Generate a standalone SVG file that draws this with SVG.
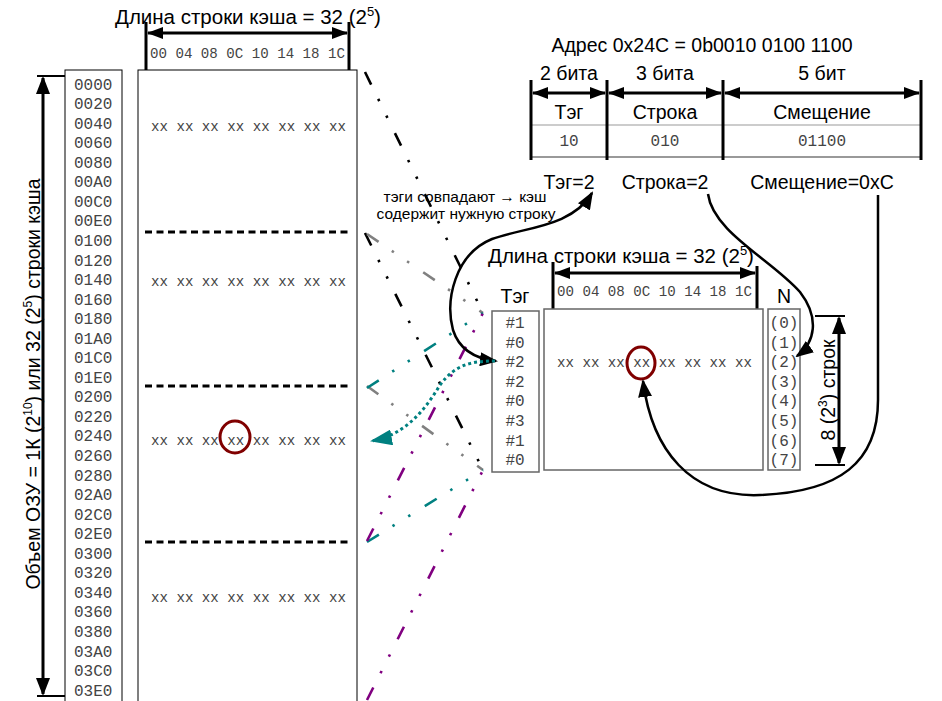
<svg xmlns="http://www.w3.org/2000/svg" width="942" height="701" viewBox="0 0 942 701">
<defs>
<style>
.t{font-family:"Liberation Sans",Arial,sans-serif;font-size:19.5px;fill:#000}
.h{font-family:"Liberation Sans",Arial,sans-serif;font-size:20.5px;fill:#000}
.n{font-family:"Liberation Sans",Arial,sans-serif;font-size:15.5px;fill:#000}
.m{font-family:"Liberation Mono","Courier New",monospace;font-size:16px;fill:#444}
.r{font-family:"Liberation Mono","Courier New",monospace;font-size:14.1px;fill:#444}
.box{fill:#fff;stroke:#000;stroke-width:1}
.gbox{fill:#fff;stroke:#666;stroke-width:1.5}
.thick{stroke:#000;stroke-width:3;fill:none}
.sep{stroke:#000;stroke-width:3;stroke-dasharray:7 4.5;fill:none}
.dd{stroke-width:2.6;fill:none;stroke-dasharray:14 16 2.5 16 2.5 17}
.circ{fill:none;stroke:#800000;stroke-width:3}
.curve{stroke:#000;stroke-width:2.5;fill:none}
</style>
<marker id="ah" viewBox="0 0 16 12" refX="15" refY="6" markerWidth="16" markerHeight="12" markerUnits="userSpaceOnUse" orient="auto-start-reverse"><path d="M0,0 L16,6 L0,12 z" fill="#000"/></marker>
<marker id="ahc" viewBox="0 0 18 14" refX="16" refY="7" markerWidth="18" markerHeight="14" markerUnits="userSpaceOnUse" orient="auto-start-reverse"><path d="M0,0 L18,7 L0,14 z" fill="#000"/></marker>
<marker id="aht" viewBox="0 0 22 16" refX="20" refY="8" markerWidth="22" markerHeight="16" markerUnits="userSpaceOnUse" orient="auto"><path d="M0,0 L22,8 L0,16 z" fill="#008080"/></marker>
</defs>

<g id="ram-size">
<line class="thick" x1="43" y1="78" x2="43" y2="694" marker-start="url(#ahc)" marker-end="url(#ahc)"/>
<line stroke="#000" stroke-width="2" x1="37" y1="76" x2="65" y2="76"/>
<line stroke="#000" stroke-width="2" x1="37" y1="696" x2="65" y2="696"/>
<text class="t" font-size="20" transform="translate(40,384) rotate(-90)" text-anchor="middle">Объем ОЗУ = 1К (2<tspan font-size="12" dy="-8">10</tspan><tspan dy="8">) или 32 (2</tspan><tspan font-size="12" dy="-8">5</tspan><tspan dy="8">) строки кэша</tspan></text>
</g>

<g id="addresses">
<rect class="box" x="65" y="70" width="57" height="640"/>
<g class="m">
<text x="74" y="89.5">0000</text><text x="74" y="109">0020</text><text x="74" y="128.6">0040</text><text x="74" y="148.2">0060</text>
<text x="74" y="167.7">0080</text><text x="74" y="187.3">00A0</text><text x="74" y="206.8">00C0</text><text x="74" y="226.4">00E0</text>
<text x="74" y="245.9">0100</text><text x="74" y="265.5">0120</text><text x="74" y="285">0140</text><text x="74" y="304.6">0160</text>
<text x="74" y="324.1">0180</text><text x="74" y="343.7">01A0</text><text x="74" y="363.2">01C0</text><text x="74" y="382.8">01E0</text>
<text x="74" y="402.3">0200</text><text x="74" y="421.9">0220</text><text x="74" y="441.4">0240</text><text x="74" y="461">0260</text>
<text x="74" y="480.5">0280</text><text x="74" y="500.1">02A0</text><text x="74" y="519.6">02C0</text><text x="74" y="539.2">02E0</text>
<text x="74" y="558.7">0300</text><text x="74" y="578.3">0320</text><text x="74" y="597.8">0340</text><text x="74" y="617.4">0360</text>
<text x="74" y="636.9">0380</text><text x="74" y="656.5">03A0</text><text x="74" y="676">03C0</text><text x="74" y="695.6">03E0</text>
</g>
</g>

<g id="ram">
<text class="h" x="115" y="24">Длина строки кэша = 32 (2<tspan font-size="13" dy="-8">5</tspan><tspan dy="8">)</tspan></text>
<line class="thick" x1="148" y1="33" x2="347" y2="33" marker-start="url(#ah)" marker-end="url(#ah)"/>
<line class="thick" x1="146" y1="22" x2="146" y2="70"/>
<line class="thick" x1="349" y1="22" x2="349" y2="70"/>
<text class="r" x="150" y="58" textLength="195" lengthAdjust="spacingAndGlyphs">00 04 08 0C 10 14 18 1C</text>
<rect class="box" x="138" y="70" width="219" height="640"/>
<line class="sep" x1="145" y1="232" x2="352" y2="232"/>
<line class="sep" x1="145" y1="386" x2="352" y2="386"/>
<line class="sep" x1="145" y1="542" x2="352" y2="542"/>
<text class="r" x="151" y="131" textLength="195" lengthAdjust="spacingAndGlyphs">xx xx xx xx xx xx xx xx</text>
<text class="r" x="151" y="286" textLength="195" lengthAdjust="spacingAndGlyphs">xx xx xx xx xx xx xx xx</text>
<text class="r" x="151" y="445" textLength="195" lengthAdjust="spacingAndGlyphs">xx xx xx xx xx xx xx xx</text>
<text class="r" x="151" y="602" textLength="195" lengthAdjust="spacingAndGlyphs">xx xx xx xx xx xx xx xx</text>
<ellipse class="circ" cx="235" cy="437" rx="15" ry="16"/>
</g>

<g id="address">
<text class="t" x="702" y="52" text-anchor="middle">Адрес 0x24C = 0b0010 0100 1100</text>
<text class="t" x="569" y="80" text-anchor="middle">2 бита</text>
<text class="t" x="665" y="80" text-anchor="middle">3 бита</text>
<text class="t" x="822" y="80" text-anchor="middle">5 бит</text>
<line stroke="#999" stroke-width="1" x1="531" y1="125" x2="921" y2="125"/>
<line stroke="#999" stroke-width="2" x1="531" y1="157" x2="921" y2="157"/>
<line class="thick" x1="531" y1="80" x2="531" y2="160"/>
<line class="thick" x1="607" y1="80" x2="607" y2="160"/>
<line class="thick" x1="723" y1="80" x2="723" y2="160"/>
<line class="thick" x1="921" y1="80" x2="921" y2="160"/>
<line class="thick" x1="533" y1="93" x2="605" y2="93" marker-start="url(#ah)" marker-end="url(#ah)"/>
<line class="thick" x1="609" y1="93" x2="721" y2="93" marker-start="url(#ah)" marker-end="url(#ah)"/>
<line class="thick" x1="725" y1="93" x2="919" y2="93" marker-start="url(#ah)" marker-end="url(#ah)"/>
<text class="t" x="569" y="119" text-anchor="middle">Тэг</text>
<text class="t" x="665" y="119" text-anchor="middle">Строка</text>
<text class="t" x="822" y="119" text-anchor="middle">Смещение</text>
<text class="m" x="569" y="146" text-anchor="middle" font-size="15" fill="#555">10</text>
<text class="m" x="665" y="146" text-anchor="middle" font-size="15" fill="#555">010</text>
<text class="m" x="822" y="146" text-anchor="middle" font-size="15" fill="#555">01100</text>
<text class="t" x="569" y="189" text-anchor="middle">Тэг=2</text>
<text class="t" x="665" y="189" text-anchor="middle">Строка=2</text>
<text class="t" x="822" y="189" text-anchor="middle">Смещение=0xC</text>
</g>

<g id="note">
<text class="n" x="465" y="202" text-anchor="middle">тэги совпадают → кэш</text>
<text class="n" x="466" y="219" text-anchor="middle">содержит нужную строку</text>
</g>

<g id="cache">
<text class="h" x="488" y="263" font-size="20">Длина строки кэша = 32 (2<tspan font-size="13" dy="-8">5</tspan><tspan dy="8">)</tspan></text>
<line class="thick" x1="555" y1="273" x2="755" y2="273" marker-start="url(#ah)" marker-end="url(#ah)"/>
<line class="thick" x1="553" y1="262" x2="553" y2="310"/>
<line class="thick" x1="757" y1="266" x2="757" y2="310"/>
<text class="r" x="557" y="296" textLength="195" lengthAdjust="spacingAndGlyphs">00 04 08 0C 10 14 18 1C</text>
<text class="t" x="515" y="303" text-anchor="middle">Тэг</text>
<text class="t" x="784" y="303" text-anchor="middle">N</text>
<rect class="gbox" x="492" y="311" width="47" height="161"/>
<rect class="gbox" x="544" y="309" width="219" height="161"/>
<rect class="gbox" x="768" y="309" width="32" height="161"/>
<g class="m" text-anchor="middle">
<text x="515" y="328">#1</text><text x="515" y="347.6">#0</text><text x="515" y="367.2">#2</text><text x="515" y="386.8">#2</text>
<text x="515" y="406.4">#0</text><text x="515" y="426">#3</text><text x="515" y="445.6">#1</text><text x="515" y="465.2">#0</text>
</g>
<g class="m" text-anchor="middle" font-size="14">
<text x="784" y="328">(0)</text><text x="784" y="347.6">(1)</text><text x="784" y="367.2">(2)</text><text x="784" y="386.8">(3)</text>
<text x="784" y="406.4">(4)</text><text x="784" y="426">(5)</text><text x="784" y="445.6">(6)</text><text x="784" y="465.2">(7)</text>
</g>
<text class="r" x="557" y="367" textLength="195" lengthAdjust="spacingAndGlyphs">xx xx xx xx xx xx xx xx</text>
<ellipse class="circ" cx="641" cy="363" rx="14" ry="16"/>
<line class="thick" x1="839" y1="318" x2="839" y2="463" marker-start="url(#ahc)" marker-end="url(#ahc)"/>
<line stroke="#000" stroke-width="2" x1="815" y1="316" x2="845" y2="316"/>
<line stroke="#000" stroke-width="2" x1="815" y1="465" x2="845" y2="465"/>
<text class="t" transform="translate(835,390) rotate(-90)" text-anchor="middle">8 (2<tspan font-size="12" dy="-8">3</tspan><tspan dy="8">) строк</tspan></text>
</g>

<g id="connectors">
<line class="dd" stroke="#000" x1="365" y1="72" x2="483" y2="313"/>
<line class="dd" stroke="#000" x1="365" y1="233" x2="483" y2="470"/>
<line class="dd" stroke="#808080" x1="367" y1="234" x2="483" y2="313"/>
<line class="dd" stroke="#808080" x1="367" y1="386" x2="483" y2="470"/>
<line class="dd" stroke="#008080" x1="367" y1="388" x2="483" y2="313"/>
<line class="dd" stroke="#008080" x1="367" y1="542" x2="483" y2="470"/>
<line class="dd" stroke="#800080" x1="367" y1="541" x2="483" y2="313"/>
<line class="dd" stroke="#800080" x1="367" y1="700" x2="483" y2="470"/>
<path class="curve" d="M592,193 C572,227 525,227 492,239 C455,254 445,300 453,330 C460,352 478,359 496,361" marker-start="url(#ahc)" marker-end="url(#ahc)"/>
<path class="curve" d="M708,194 C713,232 772,260 800,292 C820,318 815,343 797,356" marker-end="url(#ahc)"/>
<path class="curve" d="M878,195 L878,400 C878,462 840,492 760,495 C690,498 652,450 643,381" marker-end="url(#ahc)"/>
<path d="M495,361 C470,361 455,365 440,385 C425,410 405,435 372,441" fill="none" stroke="#008080" stroke-width="3" stroke-dasharray="3 3" marker-end="url(#aht)"/>
</g>
</svg>
